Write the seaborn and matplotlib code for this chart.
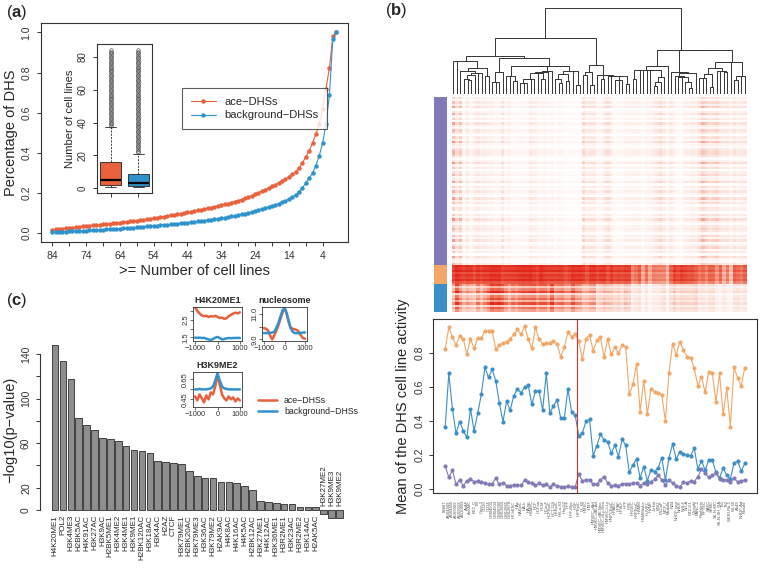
import numpy as np
import pandas as pd
import matplotlib
matplotlib.use("Agg")
import matplotlib.pyplot as plt
from matplotlib.colors import LinearSegmentedColormap, ListedColormap
from matplotlib.lines import Line2D
import seaborn as sns

# ---------------- data ----------------
# (a) cumulative fraction of DHSs active in >= N cell lines, N = 84 .. 0
n_cells = list(range(84, -1, -1))
ace_frac = [0.017, 0.019, 0.021, 0.022, 0.024, 0.026, 0.028, 0.030, 0.032, 0.034,
            0.036, 0.038, 0.039, 0.041, 0.042, 0.044, 0.046, 0.047, 0.049, 0.051,
            0.053, 0.055, 0.057, 0.059, 0.061, 0.063, 0.065, 0.068, 0.070, 0.072,
            0.075, 0.078, 0.080, 0.083, 0.086, 0.089, 0.092, 0.095, 0.098, 0.101,
            0.105, 0.108, 0.111, 0.114, 0.117, 0.121, 0.124, 0.128, 0.132, 0.136,
            0.140, 0.144, 0.148, 0.153, 0.158, 0.163, 0.168, 0.174, 0.180, 0.187,
            0.195, 0.202, 0.209, 0.217, 0.225, 0.233, 0.242, 0.251, 0.260, 0.270,
            0.280, 0.293, 0.307, 0.325, 0.350, 0.380, 0.410, 0.450, 0.495, 0.545,
            0.620, 0.720, 0.825, 0.980, 1.000]
bg_frac = [0.005, 0.006, 0.007, 0.007, 0.008, 0.009, 0.010, 0.011, 0.011, 0.012,
           0.013, 0.014, 0.015, 0.016, 0.017, 0.018, 0.019, 0.020, 0.021, 0.022,
           0.023, 0.024, 0.025, 0.027, 0.028, 0.029, 0.031, 0.032, 0.034, 0.035,
           0.037, 0.038, 0.040, 0.041, 0.043, 0.044, 0.046, 0.048, 0.049, 0.051,
           0.053, 0.055, 0.057, 0.059, 0.061, 0.063, 0.065, 0.067, 0.070, 0.072,
           0.075, 0.078, 0.081, 0.084, 0.087, 0.090, 0.094, 0.098, 0.102, 0.107,
           0.113, 0.117, 0.121, 0.126, 0.131, 0.136, 0.142, 0.148, 0.155, 0.162,
           0.170, 0.180, 0.192, 0.207, 0.226, 0.250, 0.274, 0.300, 0.337, 0.387,
           0.450, 0.545, 0.690, 0.967, 1.000]

# (a) inset boxplot summary: number of cell lines per DHS
box_stats_ace = dict(whislo=1, q1=2, med=5, q3=16, whishi=37, fliers=list(range(38, 85)))
box_stats_bg = dict(whislo=1, q1=1.5, med=3, q3=9, whishi=21, fliers=list(range(22, 85)))

# (b) mean activity per cell line (dendrogram order) for the three DHS clusters
orange_act = [0.821, 0.949, 0.892, 0.845, 0.896, 0.88, 0.792, 0.88, 0.825, 0.884,
              0.884, 0.927, 0.927, 0.927, 0.821, 0.845, 0.857, 0.865, 0.88, 0.908,
              0.937, 0.908, 0.958, 0.88, 0.825, 0.949,
              0.88, 0.849, 0.857, 0.855, 0.868, 0.849, 0.776, 0.831, 0.923, 0.894, 0.91,
              0.868, 0.761, 0.88, 0.904, 0.812, 0.874, 0.89, 0.773, 0.88, 0.79,
              0.831, 0.796, 0.845, 0.835, 0.555, 0.614, 0.732,
              0.454, 0.636, 0.44, 0.587, 0.571, 0.565, 0.552, 0.40, 0.683, 0.853,
              0.786, 0.865, 0.816, 0.777, 0.771, 0.708, 0.606, 0.659, 0.567, 0.689,
              0.679, 0.512, 0.679, 0.438, 0.59, 0.366, 0.714, 0.653, 0.604, 0.712]
blue_act = [0.366, 0.679, 0.469, 0.327, 0.395, 0.342, 0.303, 0.469, 0.342, 0.444,
            0.555, 0.714, 0.655, 0.702, 0.636, 0.505, 0.395, 0.516, 0.462, 0.548,
            0.587, 0.565, 0.597, 0.610, 0.497, 0.575,
            0.575, 0.464, 0.679, 0.444, 0.489, 0.522, 0.415, 0.415, 0.587, 0.454, 0.434,
            0.313, 0.327, 0.399, 0.409, 0.196, 0.254, 0.321, 0.288, 0.278, 0.209,
            0.258, 0.19, 0.291, 0.258, 0.098, 0.141, 0.176,
            0.065, 0.131, 0.049, 0.111, 0.102, 0.125, 0.184, 0.053, 0.184, 0.264,
            0.176, 0.219, 0.205, 0.2, 0.196, 0.239, 0.117, 0.166, 0.111, 0.168, 0.168,
            0.10, 0.065, 0.125, 0.08, 0.06, 0.15, 0.165, 0.105, 0.15]
purple_act = [0.137, 0.068, 0.111, 0.027, 0.053, 0.02, 0.049, 0.059, 0.043, 0.047,
              0.039, 0.037, 0.027, 0.027, 0.066, 0.027, 0.037, 0.02, 0.02, 0.025,
              0.023, 0.022, 0.053, 0.039, 0.033, 0.023,
              0.033, 0.023, 0.027, 0.012, 0.027, 0.02, 0.014, 0.014, 0.016, 0.012, 0.012,
              0.088, 0.049, 0.055, 0.055, 0.027, 0.027, 0.053, 0.072, 0.037, 0.018,
              0.023, 0.02, 0.031, 0.031, 0.031, 0.035, 0.035,
              0.02, 0.033, 0.03, 0.043, 0.057, 0.082, 0.053, 0.023, 0.053, 0.033,
              0.02, 0.014, 0.039, 0.037, 0.047, 0.043, 0.072, 0.117, 0.092, 0.068,
              0.082, 0.092, 0.059, 0.053, 0.055, 0.039, 0.063, 0.043, 0.047, 0.053]
n_left_cluster = 37

cell_names = ["8988T", "AG04449", "AG04450", "AG09309", "AG09319", "AG10803", "AoAF", "AoSMC", "BE2_C", "BJ",
              "Caco-2", "CD20", "CD34", "GM04503", "GM04504", "GM06990", "GM12864", "GM12865", "GM12878", "H7-hESC",
              "HAc", "HAEpiC", "HA-h", "HA-sp", "HBMEC", "HCF", "HCFaa", "HCM", "HConF", "HCPEpiC",
              "HCT-116", "HEEpiC", "HeLa-S3", "HepG2", "HFF", "HFF-Myc", "HGF", "HIPEpiC", "HL-60", "HMEC",
              "HMF", "HMVEC-dAd", "HMVEC-dBl-Ad", "HMVEC-dBl-Neo", "HMVEC-dLy-Neo", "HMVEC-LLy", "HNPCEpiC",
              "HPAEC", "HPAF", "HPdLF",
              "HPF", "HRE", "HRGEC", "HRPEpiC", "HSMM", "HSMMtube", "HUVEC", "HVMF", "Jurkat", "K562",
              "LNCaP", "MCF-7", "Medullo", "NB4", "NHDF-neo", "NHEK", "NHLF", "NH-A", "NT2-D1", "Osteobl",
              "PANC-1", "PanIslets", "RPTEC", "SAEC", "SKMC", "SK-N-MC", "SK-N-SH_RA", "Th1", "Th2", "WERI-Rb-1",
              "WI-38", "A549", "NHDF-Ad", "Fibrobl"]

# (b) heatmap row weights per DHS cluster
purple_row_w = [1.9, 0.5, 2.7, 1.1, 3.6, 0.2, 1.4, 3.1, 0.7, 2.2, 0.3, 3.5,
                1.2, 0.6, 2.9, 1.7, 0.1, 2.4, 0.9, 3.9, 1.3, 0.4, 2.0, 3.0]
orange_row_w = [1.1, 1.0, 1.15, 0.9, 1.05, 0.95, 1.1, 0.85]
blue_row_w = [1.3, 0.6, 1.0, 1.5, 0.4, 0.9, 1.2, 0.7, 1.4, 0.5, 1.1, 0.8]

# (c) enrichment of marks
mark_names = ["H4K20ME1", "POL2", "H3K4ME3", "H2BK5AC", "H4K91AC", "H3K27AC", "H3K9AC", "H2BK5ME1",
              "H3K4ME2", "H3K4ME1", "H3K9ME1", "H2BK120AC", "H3K18AC", "H3K4AC", "H2AZ", "CTCF",
              "H3K79ME1", "H2BK20AC", "H3K79ME3", "H3K36AC", "H3K79ME2", "H2AK9AC", "H4K8AC",
              "H4K16AC", "H4K5AC", "H2BK12AC", "H3K27ME1", "H4K12AC", "H3K36ME1", "H3R2ME1",
              "H3K23AC", "H3R2ME2", "H3K14AC", "H2AK5AC", "H3K27ME2", "H3K9ME3", "H3K9ME2"]
mark_scores = [147.8, 133.7, 117.3, 82.4, 76.1, 71.6, 65.0, 63.6, 61.5, 57.0, 53.4, 52.5,
               51.0, 43.6, 43.0, 42.4, 40.9, 34.6, 30.7, 28.4, 28.3, 25.0, 24.8, 23.9,
               21.8, 17.6, 7.8, 7.2, 6.0, 5.4, 5.1, 2.7, 2.4, 2.4, -3.3, -7.5, -7.5]

# (c) insets: signal profiles around DHS centre
profile_pos = list(range(-1000, 1001, 100))
h4k20_ace = [3.2, 3.0, 2.85, 2.75, 2.7, 2.72, 2.66, 2.7, 2.68, 2.72, 2.66,
             2.6, 2.62, 2.55, 2.58, 2.7, 2.78, 2.85, 2.9, 2.86, 2.92]
h4k20_bg = [1.48, 1.47, 1.48, 1.46, 1.47, 1.42, 1.38, 1.35, 1.4, 1.48, 1.52,
            1.46, 1.38, 1.4, 1.44, 1.46, 1.45, 1.46, 1.46, 1.47, 1.46]
nuc_ace = [9.9, 9.85, 9.7, 9.3, 9.0, 9.3, 9.7, 10.1, 10.6, 11.1, 11.55,
           11.1, 10.4, 9.9, 9.85, 9.8, 9.75, 9.6, 9.3, 9.1, 9.05]
nuc_bg = [9.5, 9.5, 9.5, 9.52, 9.55, 9.6, 9.9, 10.3, 10.8, 11.3, 11.5,
          11.1, 10.5, 9.9, 9.6, 9.5, 9.5, 9.5, 9.5, 9.55, 9.55]
h3k9_ace = [0.48, 0.44, 0.50, 0.46, 0.42, 0.49, 0.45, 0.52, 0.50, 0.58, 0.69,
            0.60, 0.50, 0.46, 0.44, 0.48, 0.45, 0.47, 0.43, 0.46, 0.44]
h3k9_bg = [0.55, 0.55, 0.555, 0.55, 0.55, 0.55, 0.555, 0.56, 0.58, 0.64, 0.71,
           0.64, 0.58, 0.56, 0.555, 0.55, 0.55, 0.55, 0.55, 0.55, 0.55]

# ---------------- style ----------------
sns.set_style("ticks")
plt.rcParams['font.family'] = ['Liberation Sans', 'DejaVu Sans']
plt.rcParams.update({
    'mathtext.fontset': 'custom', 'mathtext.rm': 'Liberation Sans',
    'mathtext.bf': 'Liberation Sans:bold',
    'xtick.direction': 'out', 'ytick.direction': 'out',
    'xtick.major.size': 3, 'ytick.major.size': 3,
    'xtick.major.width': 0.7, 'ytick.major.width': 0.7,
    'axes.linewidth': 0.8, 'axes.edgecolor': '#333333',
    'xtick.color': '#333333', 'ytick.color': '#333333',
})

ace_c = '#E8603C'
bg_c = '#2E93CC'
grp_c = {'purple': '#807AB6', 'orange': '#F3A666', 'blue': '#3C8FC6'}

W, H = 760, 568
fig = plt.figure(figsize=(W / 100, H / 100), dpi=100)


def px_axes(x0, y0, x1, y1):
    return fig.add_axes([x0 / W, 1 - y1 / H, (x1 - x0) / W, (y1 - y0) / H])


# ---------------- (a) ----------------
ax_a = px_axes(40.7, 23.3, 347.7, 241.7)
sns.lineplot(x=n_cells, y=ace_frac, color=ace_c, marker='o', markersize=3.2,
             markeredgewidth=0, linewidth=0.8, label='ace\u2212DHSs', ax=ax_a)
sns.lineplot(x=n_cells, y=bg_frac, color=bg_c, marker='o', markersize=3.2,
             markeredgewidth=0, linewidth=0.8, label='background\u2212DHSs', ax=ax_a)
ax_a.set_xlim(87.4, -3.4)
ax_a.set_ylim(-0.042, 1.045)
ax_a.set_xticks(list(range(84, 0, -5)))
ax_a.set_xticklabels([str(v) if (84 - v) % 10 == 0 else '' for v in range(84, 0, -5)], fontsize=7.5)
ax_a.set_yticks([0, 0.2, 0.4, 0.6, 0.8, 1.0])
ax_a.set_yticklabels(['0.0', '0.2', '0.4', '0.6', '0.8', '1.0'], rotation=90, va='center', fontsize=7.5)
ax_a.set_xlabel('>= Number of cell lines', fontsize=10.5, labelpad=2)
ax_a.set_ylabel('Percentage of DHS', fontsize=10.5, labelpad=3)
leg = ax_a.legend(loc='upper left', bbox_to_anchor=(0.443, 0.728), fontsize=8,
                  frameon=True, fancybox=False, edgecolor='#333333', borderpad=0.8,
                  handlelength=2.2, labelspacing=0.3)
leg.get_frame().set_linewidth(0.8)

# inset boxplot
ax_box = px_axes(96.7, 44, 152.3, 193.3)
stats = [dict(box_stats_ace, label=''), dict(box_stats_bg, label='')]
bp = ax_box.bxp(stats, positions=[1, 2], widths=0.77, patch_artist=True,
                boxprops=dict(linewidth=0.6, edgecolor='#222222'),
                medianprops=dict(color='black', linewidth=1.6),
                whiskerprops=dict(linestyle=(0, (2.5, 1.5)), linewidth=0.6, color='#222222'),
                capprops=dict(linewidth=0.6, color='#222222'),
                flierprops=dict(marker='o', markersize=2.6, markerfacecolor='none',
                                markeredgecolor='#333333', markeredgewidth=0.4))
for patch, c in zip(bp['boxes'], [ace_c, bg_c]):
    patch.set_facecolor(c)
ax_box.set_xlim(0.5, 2.5)
ax_box.set_ylim(-3, 87.7)
ax_box.set_xticks([1, 2])
ax_box.set_xticklabels(['', ''])
ax_box.set_yticks([0, 20, 40, 60, 80])
ax_box.set_yticklabels(['0', '20', '40', '60', '80'], rotation=90, va='center', fontsize=7)
ax_box.set_ylabel('Number of cell lines', fontsize=8, labelpad=2)

fig.text(6 / W, 1 - 13 / H, r'($\mathbf{a}$)', fontsize=12, va='center')

# ---------------- (b) ----------------
feat = np.column_stack([orange_act, blue_act, purple_act])
n_col = feat.shape[0]

# order-preserving Ward clustering for the column dendrogram
clusters = [dict(cen=feat[j], n=1, x=j + 0.5, h=0.0) for j in range(n_col)]
segs = []
while len(clusters) > 1:
    best = None
    for k in range(len(clusters) - 1):
        a, b = clusters[k], clusters[k + 1]
        d = np.sqrt(2 * a['n'] * b['n'] / (a['n'] + b['n'])) * np.linalg.norm(a['cen'] - b['cen'])
        if best is None or d < best[0]:
            best = (d, k)
    d, k = best
    a, b = clusters[k], clusters[k + 1]
    h = max(d, a['h'], b['h'])
    segs.append(([a['x'], a['x'], b['x'], b['x']], [a['h'], h, h, b['h']]))
    n = a['n'] + b['n']
    clusters[k:k + 2] = [dict(cen=(a['cen'] * a['n'] + b['cen'] * b['n']) / n, n=n,
                              x=(a['x'] + b['x']) / 2, h=h)]

ax_den = px_axes(451.7, 6.7, 746.7, 94)
for xs, ys in segs:
    ax_den.plot(xs, np.sqrt(ys), color='#333333', linewidth=0.7)
ax_den.set_xlim(0, n_col)
ax_den.set_ylim(0, np.sqrt(clusters[0]['h']) * 1.01)
ax_den.axis('off')

# heatmap
pw = np.array(purple_row_w)
purple_rows = np.concatenate([pw, pw[::-1], np.roll(pw, 9)])
heat = np.vstack([np.outer(purple_rows, purple_act),
                  np.outer(orange_row_w, orange_act),
                  np.outer(blue_row_w, blue_act)]).clip(0, 1)
group_codes = [0] * len(purple_rows) + [1] * len(orange_row_w) + [2] * len(blue_row_w)

heat_cmap = LinearSegmentedColormap.from_list('wr', ['#ffffff', '#f9c9bb', '#ec6a50', '#e2261b'])
ax_heat = px_axes(451.7, 96.7, 746.7, 311.7)
sns.heatmap(heat, cmap=heat_cmap, vmin=0, vmax=1, cbar=False,
            xticklabels=False, yticklabels=False, ax=ax_heat)

ax_rc = px_axes(434.3, 96.7, 446.7, 311.7)
sns.heatmap(np.array(group_codes)[:, None], cmap=ListedColormap([grp_c['purple'], grp_c['orange'], grp_c['blue']]),
            vmin=-0.5, vmax=2.5, cbar=False, xticklabels=False, yticklabels=False, ax=ax_rc)

# mean activity line plot
ax_b = px_axes(433.3, 319.3, 756.7, 493.3)
cell_idx = list(range(1, n_col + 1))
df_b = pd.DataFrame({
    'cell': cell_idx * 3,
    'act': orange_act + blue_act + purple_act,
    'grp': ['orange'] * n_col + ['blue'] * n_col + ['purple'] * n_col,
})
sns.lineplot(data=df_b, x='cell', y='act', hue='grp', palette=grp_c, marker='o',
             markersize=3, markeredgewidth=0, linewidth=0.8, legend=False, ax=ax_b)
ax_b.axvline(n_left_cluster + 0.5, color='#D0312D', linewidth=0.8)
ax_b.set_xlim(1 - 3.3, n_col + 3.3)
ax_b.set_ylim(-0.025, 0.996)
ax_b.set_yticks([0, 0.2, 0.4, 0.6, 0.8])
ax_b.set_yticklabels(['0.0', '0.2', '0.4', '0.6', '0.8'], rotation=90, va='center', fontsize=7.5)
ax_b.set_xticks(cell_idx)
ax_b.set_xticklabels(cell_names, rotation=90, fontsize=3, color='#555555')
ax_b.tick_params(axis='x', length=0, pad=5)
ax_b.set_xlabel('')
ax_b.set_ylabel('Mean of the DHS cell line activity', fontsize=10.5, labelpad=3)

fig.text(385 / W, 1 - 11 / H, r'($\mathbf{b}$)', fontsize=12, va='center')

# ---------------- (c) ----------------
ax_c = px_axes(40, 340, 345, 520)
sns.barplot(x=mark_names, y=mark_scores, color='#8E8E8E', saturation=1,
            edgecolor='#2b2b2b', linewidth=0.6, width=0.83, ax=ax_c)
ax_c.set_xlim(-1.9, len(mark_names) - 0.3)
ax_c.set_ylim(-9, 152.6)
ax_c.set_xticks([])
ax_c.set_yticks(list(range(0, 141, 20)))
ax_c.set_yticklabels(['0', '20', '', '60', '', '100', '', '140'], rotation=90, va='center', fontsize=7.5)
for side in ['top', 'right', 'bottom']:
    ax_c.spines[side].set_visible(False)
ax_c.spines['left'].set_bounds(0, 140)
ax_c.set_ylabel('\u2212log10(p\u2212value)', fontsize=10.5, labelpad=3)
for i, (name, v) in enumerate(zip(mark_names, mark_scores)):
    if v >= 0:
        ax_c.text(i, -4.5, name, rotation=90, ha='center', va='top', fontsize=5.8)
    else:
        ax_c.text(i, 3.8, name, rotation=90, ha='center', va='bottom', fontsize=5.8)

fig.text(6 / W, 1 - 300 / H, r'($\mathbf{c}$)', fontsize=12, va='center')

# insets with profiles
profiles = [
    ('H4K20ME1', h4k20_ace, h4k20_bg, (193.3, 306.7, 241.7, 341), (1.29, 3.24), [1.5, 2.0, 2.5, 3.0], ['1.5', '', '2.5', '']),
    ('nucleosome', nuc_ace, nuc_bg, (262.3, 306.7, 306.7, 341), (8.87, 11.6), [9, 10, 11], ['9.0', '', '11.0']),
    ('H3K9ME2', h3k9_ace, h3k9_bg, (193.3, 371.7, 241.7, 406.7), (0.377, 0.727), [0.45, 0.55, 0.65], ['0.45', '', '0.65']),
]
for title, a_vals, b_vals, box, ylim, yt, ytl in profiles:
    axp = px_axes(*box)
    sns.lineplot(x=profile_pos, y=a_vals, color=ace_c, linewidth=1.8, ax=axp)
    sns.lineplot(x=profile_pos, y=b_vals, color=bg_c, linewidth=1.8, ax=axp)
    axp.set_xlim(-1080, 1080)
    axp.set_ylim(*ylim)
    axp.set_xticks([-1000, 0, 1000])
    axp.set_xticklabels(['\u22121000', '0', '1000'], fontsize=5.5)
    axp.set_yticks(yt)
    axp.set_yticklabels(ytl, rotation=90, va='center', fontsize=5.5)
    axp.tick_params(length=2, pad=1, width=0.5)
    axp.set_title(title, fontsize=6.5, fontweight='bold', pad=3)
    for s in axp.spines.values():
        s.set_linewidth(0.6)

fig.legend(handles=[Line2D([], [], color=ace_c, linewidth=1.8),
                    Line2D([], [], color=bg_c, linewidth=1.8)],
           labels=['ace\u2212DHSs', 'background\u2212DHSs'],
           loc='upper left', bbox_to_anchor=(250 / W, 1 - 388 / H), frameon=False,
           fontsize=6.3, handlelength=2.2, labelspacing=0.2)

fig.savefig('out.png', dpi=100)
